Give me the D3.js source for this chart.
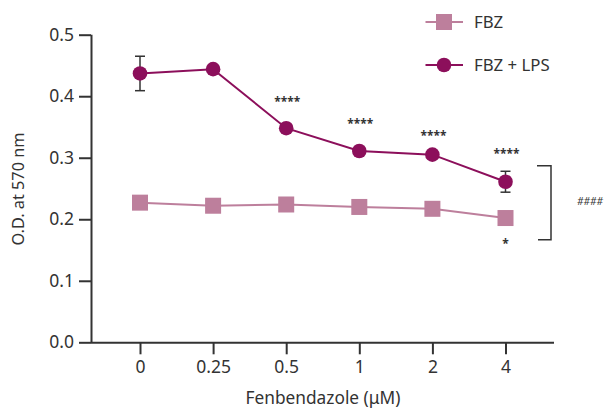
<!DOCTYPE html>
<html><head><meta charset="utf-8">
<script src="https://cdn.jsdelivr.net/npm/d3@7"></script>
<style>body{margin:0;background:#fff}svg{display:block}text{font-family:"Noto Sans",sans-serif;fill:#333}</style>
</head><body><svg id="c" width="606" height="409"></svg>
<script>
const categories = ["0","0.25","0.5","1","2","4"];
const fbz = [0.227, 0.222, 0.224, 0.220, 0.217, 0.202];
const fbzLps = [0.437, 0.444, 0.348, 0.311, 0.305, 0.261];
const fbzLpsErr = [0.028, 0, 0, 0, 0, 0.017];
const stars = ["", "", "****", "****", "****", "****"];
const fbzStars = ["", "", "", "", "", "*"];
const yTicks = [0.0, 0.1, 0.2, 0.3, 0.4, 0.5];
const seriesNames = ["FBZ", "FBZ + LPS"];

const svg = d3.select("#c");
const x = d3.scalePoint().domain(categories).range([140, 505.5]);
const y = d3.scaleLinear().domain([0, 0.5]).range([342.3, 34.7]);
const c1 = "#bd7f9c", c2 = "#8c0f5b", axisC = "#333";

// axes
const ya = svg.append("g").attr("transform","translate(91,0)")
  .call(d3.axisLeft(y).tickValues(yTicks).tickFormat(d3.format(".1f")).tickSize(12).tickPadding(5));
const xa = svg.append("g").attr("transform","translate(0,342.3)")
  .call(d3.axisBottom(x).tickSize(12).tickPadding(6));
xa.select(".domain").attr("d","M91,0.5H554");
ya.select(".domain").attr("d","M0.5,34.7V342.3");
[ya, xa].forEach(a=>{
  a.selectAll("path,line").attr("stroke",axisC).attr("stroke-width",2);
  a.selectAll("text").attr("font-family","Noto Sans").attr("font-size",17.5).attr("fill","#333");
});
ya.selectAll(".tick line").attr("x1",-12).attr("x2",0);

svg.append("text").attr("transform","translate(24,189) rotate(-90)").attr("text-anchor","middle")
  .attr("font-size",16.3).text("O.D. at 570 nm");
svg.append("text").attr("x",323).attr("y",404).attr("text-anchor","middle")
  .attr("font-size",17.3).text("Fenbendazole (μM)");

const line = d3.line().x((d,i)=>x(categories[i])).y(d=>y(d));
svg.append("path").datum(fbz).attr("d",line).attr("fill","none").attr("stroke",c1).attr("stroke-width",2);
svg.append("path").datum(fbzLps).attr("d",line).attr("fill","none").attr("stroke",c2).attr("stroke-width",2);

// error bars
fbzLps.forEach((v,i)=>{
  const e = fbzLpsErr[i]; if(!e) return;
  const cx = x(categories[i]);
  const g = svg.append("g").attr("stroke","#333").attr("stroke-width",1.5);
  g.append("line").attr("x1",cx).attr("x2",cx).attr("y1",y(v+e)).attr("y2",y(v-e));
  g.append("line").attr("x1",cx-5).attr("x2",cx+5).attr("y1",y(v+e)).attr("y2",y(v+e));
  g.append("line").attr("x1",cx-5).attr("x2",cx+5).attr("y1",y(v-e)).attr("y2",y(v-e));
});

svg.selectAll(".sq").data(fbz).join("rect").attr("x",(d,i)=>x(categories[i])-8).attr("y",d=>y(d)-8)
  .attr("width",16).attr("height",16).attr("fill",c1);
svg.selectAll(".ci").data(fbzLps).join("circle").attr("cx",(d,i)=>x(categories[i])).attr("cy",d=>y(d))
  .attr("r",7.3).attr("fill",c2);

// significance stars
const starOff = [0,0,26,27,19,28];
svg.selectAll(".st").data(stars).join("text").attr("x",(d,i)=>x(categories[i])+1)
  .attr("y",(d,i)=>y(fbzLps[i])-starOff[i]+4).attr("text-anchor","middle")
  .attr("font-size",12).attr("font-weight","bold").attr("fill","#333").text(d=>d);
svg.selectAll(".st2").data(fbzStars).join("text").attr("x",(d,i)=>x(categories[i]))
  .attr("y",(d,i)=>y(fbz[i])+30).attr("text-anchor","middle")
  .attr("font-size",12).attr("font-weight","bold").attr("fill","#333").text(d=>d);

// bracket
svg.append("path").attr("d","M537,165.7H551V239.7H538").attr("fill","none").attr("stroke","#333").attr("stroke-width",1.5);
svg.append("text").attr("x",577).attr("y",205).attr("font-size",10).attr("font-style","italic").attr("fill","#555").text("####");

// legend
const leg = [{n:seriesNames[0],c:c1,t:"sq",y:22},{n:seriesNames[1],c:c2,t:"ci",y:65}];
leg.forEach(l=>{
  svg.append("line").attr("x1",425.5).attr("x2",463).attr("y1",l.y).attr("y2",l.y).attr("stroke",l.c).attr("stroke-width",2);
  if(l.t==="sq") svg.append("rect").attr("x",436).attr("y",l.y-8).attr("width",16).attr("height",16).attr("fill",l.c);
  else svg.append("circle").attr("cx",444).attr("cy",l.y).attr("r",7.3).attr("fill",l.c);
  svg.append("text").attr("x",474).attr("y",l.y+6).attr("font-size",16.8).text(l.n);
});
</script></body></html>
